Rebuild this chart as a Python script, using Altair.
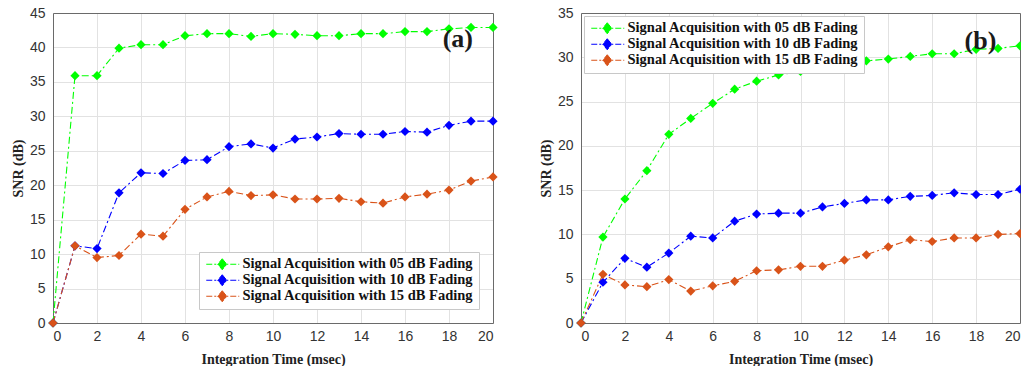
import altair as alt
import pandas as pd

# ---------------- data ----------------
t = list(range(21))
series = [
    "Signal Acquisition with 05 dB Fading",
    "Signal Acquisition with 10 dB Fading",
    "Signal Acquisition with 15 dB Fading",
]
colors = ["#00FF00", "#0000FF", "#D95319"]

a_05 = [0, 35.9, 35.9, 39.9, 40.4, 40.4, 41.7, 42.0, 42.0, 41.6, 42.0, 41.9, 41.7, 41.7, 42.0, 42.0, 42.3, 42.3, 42.7, 42.9, 42.9]
a_10 = [0, 11.2, 10.8, 18.9, 21.8, 21.7, 23.6, 23.7, 25.6, 26.0, 25.4, 26.7, 27.0, 27.5, 27.4, 27.4, 27.8, 27.7, 28.7, 29.3, 29.3]
a_15 = [0, 11.2, 9.5, 9.8, 12.9, 12.6, 16.5, 18.3, 19.1, 18.5, 18.6, 18.0, 18.0, 18.1, 17.6, 17.4, 18.3, 18.7, 19.3, 20.6, 21.2]

b_05 = [0, 9.7, 14.0, 17.2, 21.3, 23.1, 24.8, 26.4, 27.3, 28.0, 28.4, 29.0, 29.3, 29.6, 29.8, 30.1, 30.4, 30.4, 30.9, 31.0, 31.3]
b_10 = [0, 4.6, 7.3, 6.3, 7.9, 9.8, 9.6, 11.5, 12.3, 12.4, 12.4, 13.1, 13.5, 13.9, 13.9, 14.3, 14.4, 14.7, 14.5, 14.5, 15.1]
b_15 = [0, 5.5, 4.3, 4.1, 4.9, 3.6, 4.2, 4.7, 5.9, 6.0, 6.4, 6.4, 7.1, 7.7, 8.6, 9.4, 9.2, 9.6, 9.6, 10.0, 10.1]

x_ticks = list(range(0, 21, 2))
a_y_ticks = list(range(0, 46, 5))
b_y_ticks = list(range(0, 36, 5))

panel_labels = ["(a)", "(b)"]
label_x = [18.4, 18.2]
label_y = [41.2, 31.8]

FRAME = "#6a6a6a"


def frame(vals):
    rows = []
    for s, v in zip(series, vals):
        for xi, yi in zip(t, v):
            rows.append({"t": xi, "snr": yi, "series": s})
    return pd.DataFrame(rows)


LEG_PATH = "M-1,0H5.6M2.2,-1.1L3.1,0L2.2,1.1L1.3,0Z"


def panel(df, ymax, yticks, lab, lx, ly, legend_orient, legend_offset, w):
    xs = alt.Scale(domain=[0, 20], nice=False)
    ys = alt.Scale(domain=[0, ymax], nice=False)
    x_main = alt.X("t:Q", title="Integration Time (msec)", scale=xs,
                   axis=alt.Axis(values=x_ticks, grid=True, domain=True, domainColor=FRAME,
                                 labelOverlap=False, labelPadding=6, titlePadding=9))
    y_main = alt.Y("snr:Q", title="SNR (dB)", scale=ys,
                   axis=alt.Axis(values=yticks, grid=True, domain=True, domainColor=FRAME,
                                 labelOverlap=False, labelPadding=8, titlePadding=4))
    x_top = alt.X("t:Q", title=None, scale=xs,
                  axis=alt.Axis(orient="top", values=x_ticks, grid=False, labels=False,
                                domain=True, domainColor=FRAME))
    y_right = alt.Y("snr:Q", title=None, scale=ys,
                    axis=alt.Axis(orient="right", values=yticks, grid=False, labels=False,
                                  domain=True, domainColor=FRAME))
    color = alt.Color(
        "series:N",
        scale=alt.Scale(domain=series, range=colors),
        legend=alt.Legend(
            title=None, orient=legend_orient, offset=legend_offset,
            fillColor="white", strokeColor="#c8c8c8", padding=5,
            symbolType=LEG_PATH, symbolSize=100, symbolStrokeWidth=1,
            symbolDash=[6, 2, 2, 2], labelFont="Liberation Serif",
            labelFontSize=14.5, labelFontWeight="bold", labelColor="#111111",
            labelOffset=24, rowPadding=0, labelLimit=400,
        ),
    )
    base = alt.Chart(df)
    line = base.mark_line(strokeWidth=1.1, strokeDash=[7, 3, 2, 3]).encode(x=x_main, y=y_main, color=color)
    pts = base.mark_point(shape="diamond", filled=True, size=85, opacity=1).encode(x=x_top, y=y_right, color=color)
    txt = alt.Chart(pd.DataFrame({"lab": [lab], "x": [lx], "y": [ly]})).mark_text(
        font="Liberation Serif", fontSize=26, fontWeight="bold", color="#1a1a1a",
        baseline="middle", align="center",
    ).encode(x=alt.X("x:Q", scale=xs, axis=None), y=alt.Y("y:Q", scale=ys, axis=None), text="lab:N")
    return alt.layer(line, pts, txt).resolve_axis(x="independent", y="independent").properties(width=w, height=310)


pa = panel(frame([a_05, a_10, a_15]), 45, a_y_ticks, panel_labels[0], label_x[0], label_y[0], "bottom-right", 14, 440)
pb = panel(frame([b_05, b_10, b_15]), 35, b_y_ticks, panel_labels[1], label_x[1], label_y[1], "top-left", 3, 439)

chart = alt.hconcat(pa, pb, spacing=41).resolve_scale(color="independent").resolve_legend(color="independent").configure_axis(
    ticks=False, gridColor="#e2e2e2", gridWidth=1,
    labelFont="Liberation Sans", labelFontSize=14, labelColor="#333333",
    titleFont="Liberation Serif", titleFontSize=14, titleFontWeight="bold", titleColor="#222222",
).configure_view(stroke=None).properties(
    padding={"left": 11, "top": 6, "right": -4, "bottom": 0},
    background="white",
)

chart.save("out.html", embed_options={"renderer": "svg", "actions": False})
